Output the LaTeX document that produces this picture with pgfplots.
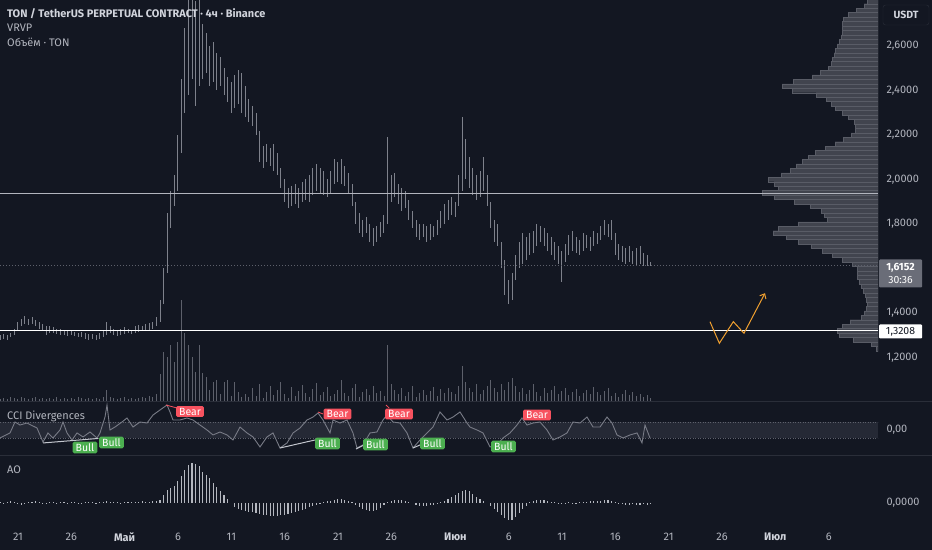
\documentclass[border=0pt]{standalone}
\usepackage{fontspec}
\setmainfont{Fira Sans}
\usepackage{pgfplots}
\pgfplotsset{compat=1.18}
\usepackage{pgfplotstable}
\usetikzlibrary{arrows.meta}
\definecolor{bg}{HTML}{131722}
\definecolor{candle}{HTML}{7E818B}
\definecolor{volc}{HTML}{5D606B}
\definecolor{prof}{HTML}{41444E}
\definecolor{profl}{HTML}{595C66}
\definecolor{txt}{HTML}{B2B5BE}
\definecolor{txtw}{HTML}{D1D4DC}
\definecolor{sepc}{HTML}{2A2E39}
\definecolor{band}{HTML}{252935}
\definecolor{bullg}{HTML}{4CAF50}
\definecolor{bearr}{HTML}{F7525F}
\definecolor{orng}{HTML}{F0A030}
\definecolor{aoc}{HTML}{B4B7BF}
\definecolor{ccic}{HTML}{787B86}
\definecolor{divl}{HTML}{C3C6CE}
\definecolor{lastbox}{HTML}{6A6D78}

\pgfplotstableread{
i lo hi vol ao
0 1.280 1.300 3 1
1 1.285 1.305 4 -1
2 1.280 1.300 3 1
3 1.290 1.310 5 2
4 1.300 1.330 4 1
5 1.320 1.360 3 -1
6 1.340 1.375 5 -2
7 1.350 1.385 4 -1
8 1.345 1.375 3 1
9 1.350 1.380 4 1
10 1.340 1.370 5 2
11 1.330 1.360 3 1
12 1.320 1.350 4 -1
13 1.300 1.340 3 -1
14 1.310 1.340 4 1
15 1.310 1.335 3 1
16 1.305 1.330 5 -1
17 1.300 1.330 3 1
18 1.300 1.325 4 1
19 1.295 1.320 3 -1
20 1.300 1.320 4 1
21 1.295 1.315 3 1
22 1.290 1.310 5 -1
23 1.290 1.315 4 -1
24 1.285 1.310 3 1
25 1.280 1.305 4 1
26 1.285 1.305 3 1
27 1.280 1.300 4 -1
28 1.285 1.310 3 1
29 1.290 1.320 5 1
30 1.300 1.360 12 2
31 1.310 1.340 5 1
32 1.300 1.330 4 1
33 1.295 1.320 3 1
34 1.300 1.330 4 -1
35 1.305 1.335 5 1
36 1.310 1.330 3 1
37 1.305 1.325 4 1
38 1.310 1.340 3 1
39 1.315 1.345 4 1
40 1.320 1.340 5 2
41 1.320 1.350 4 1
42 1.325 1.355 6 1
43 1.330 1.360 5 2
44 1.340 1.380 8 2
45 1.360 1.460 28 3
46 1.440 1.600 50 8
47 1.580 1.850 45 13
48 1.780 1.950 57 15
49 1.880 2.020 40 17
50 1.950 2.200 60 22
51 2.120 2.450 102 27
52 2.300 2.680 69 33
53 2.380 2.820 57 38
54 2.450 2.820 45 40
55 2.330 2.800 30 39
56 2.420 2.820 57 37
57 2.450 2.700 29 31
58 2.480 2.660 25 28
59 2.420 2.600 12 25
60 2.440 2.620 20 20
61 2.400 2.570 22 16
62 2.420 2.550 8 12
63 2.380 2.500 20 8
64 2.350 2.460 22 4
65 2.300 2.440 6 0
66 2.320 2.470 20 -4
67 2.340 2.490 10 -6
68 2.300 2.480 5 -7
69 2.280 2.420 8 -8
70 2.260 2.360 5 -9
71 2.240 2.330 14 -9
72 2.200 2.300 6 -10
73 2.080 2.220 18 -11
74 2.050 2.150 4 -12
75 2.080 2.160 10 -12
76 2.060 2.140 16 -13
77 2.040 2.160 7 -13
78 2.020 2.120 12 -13
79 1.960 2.050 20 -12
80 1.900 2.000 8 -12
81 1.870 1.960 4 -11
82 1.880 1.970 15 -10
83 1.890 1.980 6 -9
84 1.870 1.960 11 -8
85 1.900 1.990 17 -7
86 1.910 2.000 9 -6
87 1.900 2.020 5 -4
88 1.930 2.050 13 -3
89 1.950 2.070 19 -2
90 1.940 2.050 7 -1
91 1.930 2.040 10 1
92 1.920 2.000 15 2
93 1.940 2.040 6 2
94 1.980 2.090 8 3
95 1.990 2.080 12 4
96 1.980 2.090 22 4
97 1.970 2.060 9 3
98 1.940 2.030 6 2
99 1.880 1.980 14 1
100 1.800 1.900 18 -2
101 1.760 1.850 5 -4
102 1.740 1.820 10 -6
103 1.760 1.830 13 -7
104 1.720 1.800 7 -8
105 1.700 1.780 16 -8
106 1.720 1.790 9 -7
107 1.740 1.810 11 -5
108 1.760 1.840 6 -2
109 1.800 2.190 57 1
110 1.900 2.020 18 2
111 1.920 2.030 12 3
112 1.890 1.980 8 3
113 1.860 1.960 14 3
114 1.870 1.950 6 2
115 1.820 1.910 10 1
116 1.780 1.860 16 0
117 1.740 1.820 5 -2
118 1.730 1.800 9 -3
119 1.740 1.800 12 -3
120 1.720 1.790 7 -3
121 1.730 1.800 11 -2
122 1.740 1.790 15 -2
123 1.750 1.820 6 -1
124 1.780 1.860 13 1
125 1.800 1.890 9 2
126 1.820 1.910 14 4
127 1.840 1.920 10 6
128 1.830 1.900 8 8
129 1.880 2.020 16 10
130 1.950 2.280 36 12
131 2.000 2.180 20 13
132 1.960 2.100 14 12
133 1.930 2.050 10 9
134 1.910 2.020 18 6
135 1.920 2.040 8 4
136 1.950 2.100 12 2
137 1.880 2.020 16 0
138 1.780 1.900 22 -3
139 1.720 1.820 14 -6
140 1.700 1.800 10 -9
141 1.600 1.720 18 -12
142 1.480 1.640 12 -15
143 1.440 1.550 20 -17
144 1.460 1.580 24 -17
145 1.550 1.660 16 -14
146 1.600 1.720 10 -10
147 1.620 1.760 14 -6
148 1.640 1.740 8 -3
149 1.660 1.760 12 1
150 1.670 1.770 18 2
151 1.700 1.800 10 3
152 1.720 1.790 6 3
153 1.700 1.780 14 3
154 1.680 1.760 9 2
155 1.660 1.740 12 1
156 1.640 1.720 16 1
157 1.620 1.700 8 -1
158 1.540 1.680 11 -1
159 1.630 1.710 14 -1
160 1.660 1.750 7 1
161 1.680 1.770 10 -1
162 1.670 1.740 13 -1
163 1.660 1.730 6 1
164 1.680 1.760 9 1
165 1.690 1.750 12 1
166 1.680 1.740 8 2
167 1.700 1.770 15 2
168 1.710 1.760 10 2
169 1.730 1.790 7 2
170 1.750 1.820 11 3
171 1.740 1.800 14 3
172 1.730 1.820 6 2
173 1.660 1.760 9 1
174 1.640 1.710 5 -1
175 1.630 1.700 8 -1
176 1.620 1.690 12 -2
177 1.630 1.700 7 -2
178 1.620 1.680 10 -1
179 1.610 1.690 6 -2
180 1.620 1.700 8 -2
181 1.610 1.670 5 -1
182 1.610 1.660 7 -2
183 1.610 1.630 4 -1
}\candles

\pgfplotstableread{
px cci
0 -100
10 -37
15 100
20 62
27 87
37 25
43 -150
48 -37
53 -100
60 0
63 100
67 -37
72 -125
77 -37
83 -87
90 -25
97 -100
100 -37
105 162
107 312
110 0
115 37
122 100
127 150
133 37
140 100
147 87
153 187
160 250
167 312
170 225
173 125
180 125
187 150
193 125
200 62
207 0
213 -62
220 -25
227 -62
233 -125
240 37
247 -37
253 -87
260 -212
267 -87
273 -37
280 -225
287 -162
293 -37
300 25
307 125
313 162
318 212
323 125
330 -37
333 125
340 87
347 125
353 -37
357 -225
363 -187
370 -37
377 -25
383 125
387 187
393 100
400 87
407 -37
413 -225
420 -125
427 -37
433 37
440 225
447 125
453 162
460 225
467 87
470 37
477 0
483 -37
490 -212
497 -187
503 -100
510 -37
517 62
522 150
527 62
533 87
540 100
547 0
553 -125
560 -87
567 -37
573 100
580 87
587 162
593 37
600 37
607 162
612 87
617 -62
623 -100
630 -62
637 -37
642 -162
645 62
650 -100
}\ccidata

\pgfplotstableread{
w p
11 2.80
14 2.78
22 2.76
30 2.74
35 2.72
36 2.70
36 2.68
36 2.66
37 2.64
39 2.62
41 2.60
43 2.58
44 2.56
46 2.54
47 2.52
50 2.50
58 2.48
66 2.46
85 2.44
96 2.42
86 2.40
62 2.38
52 2.36
47 2.34
43 2.32
36 2.30
30 2.28
24 2.26
23 2.24
23 2.22
27 2.20
35 2.18
43 2.16
53 2.14
63 2.12
70 2.10
76 2.08
82 2.06
88 2.04
97 2.02
110 2.00
104 1.98
100 1.96
116 1.94
104 1.92
84 1.90
68 1.88
57 1.86
54 1.84
51 1.82
80 1.80
100 1.78
105 1.76
92 1.74
80 1.72
67 1.70
56 1.68
46 1.66
36 1.64
26 1.62
21 1.60
21 1.58
21 1.56
19 1.54
17 1.52
15 1.50
13 1.48
12 1.46
11 1.44
12 1.42
14 1.40
17 1.38
28 1.36
36 1.34
41 1.32
39 1.30
25 1.28
7 1.26
2 1.24
}\profile

\begin{document}
\begin{tikzpicture}[x=1bp,y=1bp]
\fill[bg] (0,0) rectangle (932,550);
\pgfplotsset{panel/.style={scale only axis, width=878bp, xmin=-1.6875, xmax=80.625,
  axis line style={draw=none}, major tick length=0pt, xtick=\empty, ytick=\empty,
  anchor=south west, clip=true,
  tick label style={font=\fontsize{11}{13}\selectfont, text=txt},
  /pgf/number format/assume math mode=true}}

% volume profile
\begin{axis}[panel, at={(0bp,148bp)}, height=402bp, ymin=1.0, ymax=2.8067, x dir=reverse, xmin=0, xmax=878]
\addplot[xbar, bar width=0.02, bar shift=0pt, fill=prof, draw=profl, line width=0.25bp] table[x=w,y=p]{\profile};
\end{axis}

% volume
\begin{axis}[panel, at={(0bp,148bp)}, height=402bp, ymin=0, ymax=402]
\addplot[ycomb, draw=volc, line width=0.8bp, mark=none] table[x expr=\thisrow{i}/3-1.6875, y=vol]{\candles};
\end{axis}

% price
\begin{axis}[panel, at={(0bp,148bp)}, height=402bp, ymin=1.0, ymax=2.8067,
  ytick={1.2,1.4,1.8,2.0,2.2,2.4,2.6}, yticklabel pos=right,
  yticklabel style={anchor=west, xshift=5bp,
    /pgf/number format/.cd, fixed, fixed zerofill, precision=4, use comma, 1000 sep={}}]
\addplot[draw=none, mark=none, error bars/.cd, y dir=both, y explicit, error mark=none,
  error bar style={draw=candle, line width=1bp}]
  table[x expr=\thisrow{i}/3-1.6875, y expr=0.5*(\thisrow{lo}+\thisrow{hi}), y error expr=0.5*(\thisrow{hi}-\thisrow{lo})]{\candles};
\addplot[txt, line width=0.9bp] coordinates {(-1.6875,1.939) (80.625,1.939)};
\addplot[white, line width=1.3bp] coordinates {(-1.6875,1.3208) (80.625,1.3208)};
\addplot[volc, line width=0.7bp, dash pattern=on 1bp off 2bp] coordinates {(-1.6875,1.6152) (80.625,1.6152)};
\addplot[orng, line width=1bp, -{Straight Barb[length=4bp,width=7bp]}] coordinates {(64.87,1.361) (65.75,1.264) (67.06,1.361) (68.06,1.309) (70.03,1.489)};
\end{axis}

% CCI
\begin{axis}[panel, at={(0bp,94bp)}, height=54bp, ymin=-325, ymax=350,
  ytick={0}, yticklabel={0,00}, yticklabel pos=right, yticklabel style={anchor=west, xshift=5bp}]
\addplot[fill=band, draw=none] coordinates {(-1.6875,-100) (80.625,-100) (80.625,100) (-1.6875,100)} -- cycle;
\addplot[volc, line width=0.6bp, dash pattern=on 1bp off 1.5bp] coordinates {(-1.6875,100) (80.625,100)};
\addplot[volc, line width=0.6bp, dash pattern=on 1bp off 1.5bp] coordinates {(-1.6875,-100) (80.625,-100)};
\addplot[ccic, line width=0.9bp] table[x expr=(\thisrow{px}-18)*3/32, y=cci]{\ccidata};
\addplot[divl, line width=1bp] coordinates {(2.344,-162) (7.5,-106)};
\addplot[divl, line width=1bp] coordinates {(24.56,-225) (27.84,-125)};
\addplot[divl, line width=1bp] coordinates {(31.69,-237) (32.44,-187)};
\addplot[divl, line width=1bp] coordinates {(37.03,-225) (37.69,-187)};
\addplot[bearr, line width=0.8bp] coordinates {(13.875,312) (14.9,275)};
\addplot[bearr, line width=0.8bp] coordinates {(28.125,225) (28.6,200)};
\addplot[bearr, line width=0.8bp] coordinates {(34.5,312) (34.8,275)};
\end{axis}

% AO
\begin{axis}[panel, at={(0bp,28bp)}, height=66bp, ymin=-19, ymax=47,
  ytick={0}, yticklabel={0,0000}, yticklabel pos=right, yticklabel style={anchor=west, xshift=5bp},
  xtick={0,5,10,15,20,25,30,35,41,46,51,56,61,66,71,76},
  xticklabels={21,26,{\textcolor{txtw}{\bfseries Май}},6,11,16,21,26,{\textcolor{txtw}{\bfseries Июн}},6,11,16,21,26,{\textcolor{txtw}{\bfseries Июл}},6},
  xticklabel style={anchor=center, yshift=-15bp}]
\addplot[ycomb, draw=aoc, line width=1.1bp, mark=none] table[x expr=\thisrow{i}/3-1.6875, y=ao]{\candles};
\end{axis}

% pane separators
\draw[sepc, line width=1bp] (0,148) -- (932,148);
\draw[sepc, line width=1bp] (0,94) -- (932,94);

% legend texts
\node[anchor=west, inner sep=0, text=txtw, font=\fontsize{11}{13}\selectfont\bfseries] at (7,536) {TON / TetherUS PERPETUAL CONTRACT · 4ч · Binance};
\node[anchor=west, inner sep=0, text=txt, font=\fontsize{11}{13}\selectfont] at (7,522) {VRVP};
\node[anchor=west, inner sep=0, text=txt, font=\fontsize{11}{13}\selectfont] at (7,508) {Объём · TON};
\node[anchor=west, inner sep=0, text=txt, font=\fontsize{11}{13}\selectfont] at (7,134) {CCI Divergences};
\node[anchor=west, inner sep=0, text=txt, font=\fontsize{11}{13}\selectfont] at (7,80) {AO};

% divergence labels
\tikzset{bull/.style={fill=bullg, text=white, rounded corners=1.5bp, inner xsep=3bp, inner ysep=1.8bp, font=\fontsize{10.5}{11}\selectfont},
         bear/.style={fill=bearr, text=white, rounded corners=1.5bp, inner xsep=3bp, inner ysep=1.8bp, font=\fontsize{10.5}{11}\selectfont}}
\node[bull] at (85,102.5) {Bull};
\node[bull] at (111.5,107.5) {Bull};
\node[bear] at (190,138.5) {Bear};
\node[bull] at (327.5,106.5) {Bull};
\node[bear] at (337.5,136) {Bear};
\node[bull] at (375.5,105.5) {Bull};
\node[bear] at (399,136) {Bear};
\node[bull] at (432.5,106.5) {Bull};
\node[bull] at (503.5,103.5) {Bull};
\node[bear] at (537,135) {Bear};

% price scale boxes
\node[draw=sepc, fill=bg, rounded corners=2.5bp, text=txtw, font=\fontsize{10.5}{12}\selectfont\bfseries, minimum width=46bp, minimum height=20bp, inner sep=0] at (906,535) {USDT};
\node[fill=lastbox, text=white, font=\fontsize{10.5}{13}\selectfont, align=center, minimum width=43bp, minimum height=28bp, inner sep=0, rounded corners=1bp] at (900.5,276.5) {\textbf{1,6152}\\30:36};
\node[fill=white, text=bg, font=\fontsize{10.5}{12}\selectfont, minimum width=43bp, minimum height=14bp, inner sep=0, rounded corners=1bp] at (900.5,218.5) {1,3208};

\pgfresetboundingbox
\useasboundingbox (0,0) rectangle (932,550);
\end{tikzpicture}
\end{document}
